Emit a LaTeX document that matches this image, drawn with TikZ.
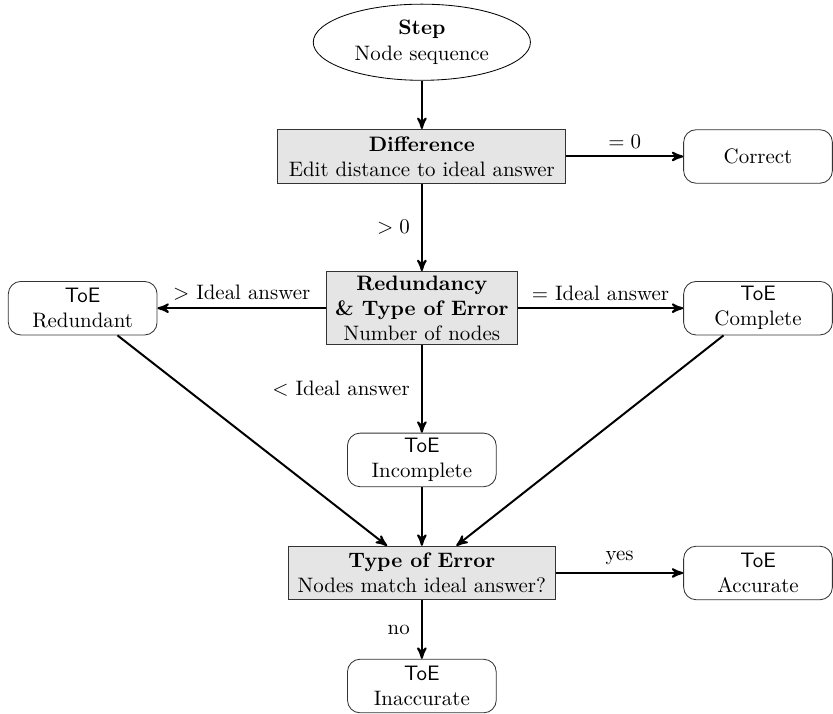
\documentclass[tikz,border=0pt]{standalone}
\usetikzlibrary{arrows,shapes.geometric}
\usepackage{amsmath}
\usepackage{amssymb}

\begin{document}
\begin{tikzpicture}[>=stealth',line width=0.95pt,node distance=2.55cm,
    start/.style={ellipse,draw,thin,minimum width=3.65cm,minimum height=1.28cm,inner sep=0pt,align=center},
    decision/.style={rectangle,draw=black!80,thin,fill=black!10,align=center,inner sep=2pt},
    outcome/.style={rectangle,rounded corners=6pt,draw=black!80,thin,minimum width=2.5cm,minimum height=0.9cm,align=center,inner sep=2pt}]
                  \useasboundingbox (-7.09,0.71) rectangle (6.91,-11.28);
                  \node[start]  		(1) []           {\textbf{Step}\\Node sequence};
                  \node[decision,minimum width=4.84cm,minimum height=0.91cm] (2) [below of=1,node distance=1.92cm] {\textbf{Difference}\\Edit distance to ideal answer};
                  \node[outcome]        (3) [right of=2,node distance=5.65cm] {Correct};
                  \node[decision,minimum width=3.21cm,minimum height=1.23cm] (4) [below of=2] {\textbf{Redundancy}\\\textbf{\& Type of Error}\\Number of nodes};
                  \node[outcome]        (5) [left of=4,node distance=5.7cm] {\textsf{ToE}\\Redundant};
                  \node[outcome]        (6) [right of=4,node distance=5.65cm] {\textsf{ToE}\\Complete};
                  \node[outcome]        (7) [below of=4] {\textsf{ToE}\\Incomplete};
                  \node[decision,minimum width=4.5cm,minimum height=0.9cm] (8) [below of=7,node distance=1.9cm] {\textbf{Type of Error}\\Nodes match ideal answer?};
                  \node[outcome]        (9) [right of=8,node distance=5.65cm] {\textsf{ToE}\\Accurate};
                  \node[outcome]        (10) [below of=8,node distance=1.9cm] {\textsf{ToE}\\Inaccurate};

                      \draw[->] 
                               (1) edge (2)
                               (2) edge node[above] {$=0$} (3)
                                   edge node[left=2pt] {$>0$} (4)
                               (4) edge node[above] {$>$ Ideal answer} (5)
                                   edge node[above] {$=$ Ideal answer} (6)
                                   edge node[left=2pt] {$<$ Ideal answer} (7)
                               (5) edge (8)
                               (6) edge (8)
                               (7) edge (8)
                               (8) edge node[above] {yes} (9)
                                   edge node[left=2pt] {no} (10);
        \end{tikzpicture}
\end{document}
